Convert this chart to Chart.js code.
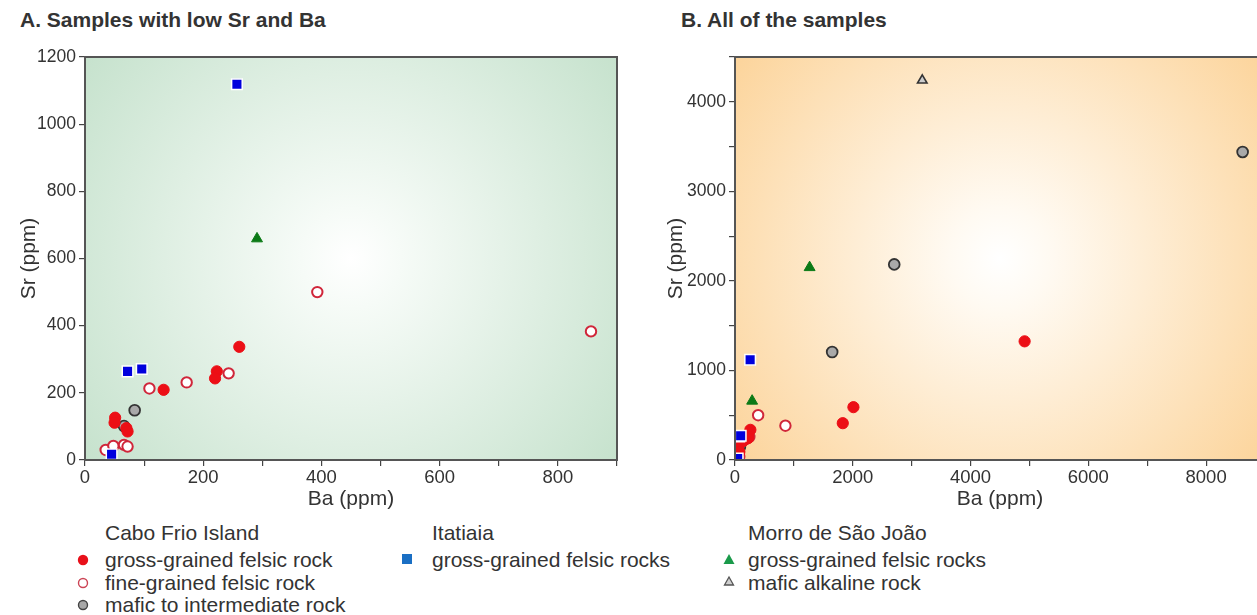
<!DOCTYPE html>
<html>
<head>
<meta charset="utf-8">
<script src="https://cdn.jsdelivr.net/npm/chart.js@4/dist/chart.umd.min.js"></script>
<style>
    body { margin: 0; width: 1257px; height: 615px; overflow: hidden; background: #fff; position: relative;
           font-family: "Liberation Sans", Arial, sans-serif; color: #333; }
    .titulo { position: absolute; top: 8px; font-weight: bold; font-size: 21px; line-height: 24px; }
    .painel { position: absolute; top: 40px; }
    .linha { position: absolute; font-size: 21px; line-height: 24px; white-space: nowrap; }
    .marca { position: absolute; }
</style>
</head>
<body>

<div class="titulo" style="left:20px">A. Samples with low Sr and Ba</div>
<div class="titulo" style="left:681px">B. All of the samples</div>

<canvas id="graficoA" class="painel" style="left:0" width="640" height="480"></canvas>
<canvas id="graficoB" class="painel" style="left:650px" width="640" height="480"></canvas>

<!-- legenda -->
<div class="linha" style="left:105px; top:521px">Cabo Frio Island</div>
<svg class="marca" style="left:76px; top:553px" width="14" height="14"><circle cx="7" cy="7" r="5.2" fill="#e8101a"/></svg>
<div class="linha" style="left:105px; top:548px">gross-grained felsic rock</div>
<svg class="marca" style="left:76px; top:576px" width="14" height="14"><circle cx="7" cy="7" r="4.5" fill="#fff" stroke="#cc4455" stroke-width="1.4"/></svg>
<div class="linha" style="left:105px; top:571px">fine-grained felsic rock</div>
<svg class="marca" style="left:76px; top:598px" width="14" height="14"><circle cx="7" cy="7" r="4.5" fill="#a8a8a8" stroke="#444" stroke-width="1.4"/></svg>
<div class="linha" style="left:105px; top:593px">mafic to intermediate rock</div>

<div class="linha" style="left:432px; top:521px">Itatiaia</div>
<svg class="marca" style="left:400px; top:552px" width="14" height="14"><rect x="2" y="2" width="10" height="10" fill="#1a6fc4"/></svg>
<div class="linha" style="left:432px; top:548px">gross-grained felsic rocks</div>

<div class="linha" style="left:748px; top:521px">Morro de São João</div>
<svg class="marca" style="left:722px; top:552px" width="14" height="14"><polygon points="7,2 12.5,12 1.5,12" fill="#1a9a4a"/></svg>
<div class="linha" style="left:748px; top:548px">gross-grained felsic rocks</div>
<svg class="marca" style="left:722px; top:574px" width="14" height="14"><polygon points="7,3 11.5,11 2.5,11" fill="#cfcfcf" stroke="#555" stroke-width="1.3"/></svg>
<div class="linha" style="left:748px; top:571px">mafic alkaline rock</div>

<script>
// Cabo Frio Island - gross-grained felsic rock
var baCaboGrosso = [261, 223, 220, 133, 51, 50, 70, 72, 1830, 2011, 4918];
var srCaboGrosso = [337, 264, 243, 209, 126, 111, 95, 85, 411, 590, 1325];

// Cabo Frio Island - fine-grained felsic rock
var baCaboFino = [243, 172, 109, 35, 48, 66, 72, 393, 856];
var srCaboFino = [258, 231, 213, 30, 42, 45, 40, 500, 383];

// Cabo Frio Island - mafic to intermediate rock
var baCaboMafico = [84, 66, 1650, 2704, 8620];
var srCaboMafico = [148, 101, 1206, 2184, 3440];

// Itatiaia - gross-grained felsic rocks
var baItatiaia = [72, 96, 45, 257];
var srItatiaia = [264, 271, 17, 1119];

// Morro de Sao Joao
var baMorroFelsico = [291, 1267];
var srMorroFelsico = [659, 2150];
var baMorroAlcalino = [3180];
var srMorroAlcalino = [4240];

// eixos: [max, passo, rotulo a cada]
var eixoXA = [900, 100, 200];
var eixoYA = [1200, 200, 200];
var eixoXB = [9000, 1000, 2000];
var eixoYB = [4500, 500, 1000];

var fonte = '"Liberation Sans", Arial, sans-serif';

function pontos(xs, ys) {
    return xs.map(function (x, i) { return { x: x, y: ys[i] }; });
}

var fundoMoldura = {
    id: 'fundoMoldura',
    beforeDraw: function (chart, args, opcoes) {
        var a = chart.chartArea;
        var ctx = chart.ctx;
        var cx = (a.left + a.right) / 2;
        var cy = (a.top + a.bottom) / 2;
        var raio = Math.sqrt(a.width * a.width / 4 + a.height * a.height / 4);
        var gradiente = ctx.createRadialGradient(cx, cy, 0, cx, cy, raio);
        gradiente.addColorStop(0, '#ffffff');
        gradiente.addColorStop(0.15, opcoes.meio);
        gradiente.addColorStop(1, opcoes.borda);
        ctx.save();
        ctx.fillStyle = gradiente;
        ctx.fillRect(a.left, a.top, a.width, a.height);
        ctx.restore();
    },
    afterDatasetsDraw: function (chart) {
        var a = chart.chartArea;
        var ctx = chart.ctx;
        ctx.save();
        ctx.strokeStyle = '#555';
        ctx.lineWidth = 2;
        ctx.strokeRect(a.left, a.top, a.width, a.height);
        ctx.restore();
    }
};

function eixo(config, titulo, horizontal, recuoTitulo) {
    return {
        type: 'linear',
        min: 0,
        max: config[0],
        border: { display: false },
        grid: { drawOnChartArea: false, drawTicks: true, tickLength: 6, color: '#444', lineWidth: 1.2 },
        ticks: {
            stepSize: config[1],
            autoSkip: false,
            maxRotation: 0,
            padding: horizontal ? 1 : 3,
            color: '#333',
            font: { size: horizontal ? 18.5 : 17.5, family: fonte },
            callback: function (valor) {
                return valor % config[2] === 0 ? String(valor) : '';
            }
        },
        title: {
            display: true,
            text: titulo,
            color: '#333',
            font: { size: 21, family: fonte },
            padding: horizontal ? { top: 0, bottom: 8 } : { top: recuoTitulo, bottom: 0 }
        },
        afterFit: function (escala) {
            if (horizontal)
                escala.height = 60;
            else
                escala.width = 85;
        }
    };
}

function inicializarGrafico(id, eixoX, eixoY, meio, borda, direita, recuoTitulo) {
    var elemento = document.getElementById(id);

    if (!elemento)
        return;

    new Chart(elemento.getContext('2d'), {
        type: 'scatter',
        data: {
            datasets: [{
                label: 'Itatiaia gross-grained felsic rocks',
                data: pontos(baItatiaia, srItatiaia),
                pointStyle: 'rect',
                backgroundColor: '#0000dd',
                borderColor: '#ffffff',
                borderWidth: 1.5,
                pointRadius: 7.5
            }, {
                label: 'gross-grained felsic rock',
                data: pontos(baCaboGrosso, srCaboGrosso),
                backgroundColor: '#ec0f16',
                borderColor: '#ec0f16',
                borderWidth: 1,
                pointRadius: 5.6
            }, {
                label: 'fine-grained felsic rock',
                data: pontos(baCaboFino, srCaboFino),
                backgroundColor: '#ffffff',
                borderColor: '#d0263a',
                borderWidth: 2,
                pointRadius: 5.2
            }, {
                label: 'mafic to intermediate rock',
                data: pontos(baCaboMafico, srCaboMafico),
                backgroundColor: '#a9a9a9',
                borderColor: '#333333',
                borderWidth: 1.8,
                pointRadius: 5.4
            }, {
                label: 'Morro de São João gross-grained felsic rocks',
                data: pontos(baMorroFelsico, srMorroFelsico),
                pointStyle: 'triangle',
                backgroundColor: '#0b7a16',
                borderColor: '#0b7a16',
                borderWidth: 1,
                pointRadius: 6.3
            }, {
                label: 'mafic alkaline rock',
                data: pontos(baMorroAlcalino, srMorroAlcalino),
                pointStyle: 'triangle',
                backgroundColor: '#cccccc',
                borderColor: '#333333',
                borderWidth: 1.6,
                pointRadius: 5.5
            }]
        },
        options: {
            responsive: false,
            animation: false,
            layout: { padding: { left: 0, top: 17, right: direita, bottom: 0 } },
            scales: {
                x: eixo(eixoX, 'Ba (ppm)', true, 0),
                y: eixo(eixoY, 'Sr (ppm)', false, recuoTitulo)
            },
            plugins: {
                legend: { display: false },
                tooltip: { enabled: false },
                fundoMoldura: { meio: meio, borda: borda }
            }
        },
        plugins: [fundoMoldura]
    });
}

inicializarGrafico('graficoA', eixoXA, eixoYA, '#f6fbf7', '#c6e2cd', 23, 17);
inicializarGrafico('graficoB', eixoXB, eixoYB, '#fffaf2', '#fcd49b', 25, 14);
</script>
</body>
</html>
